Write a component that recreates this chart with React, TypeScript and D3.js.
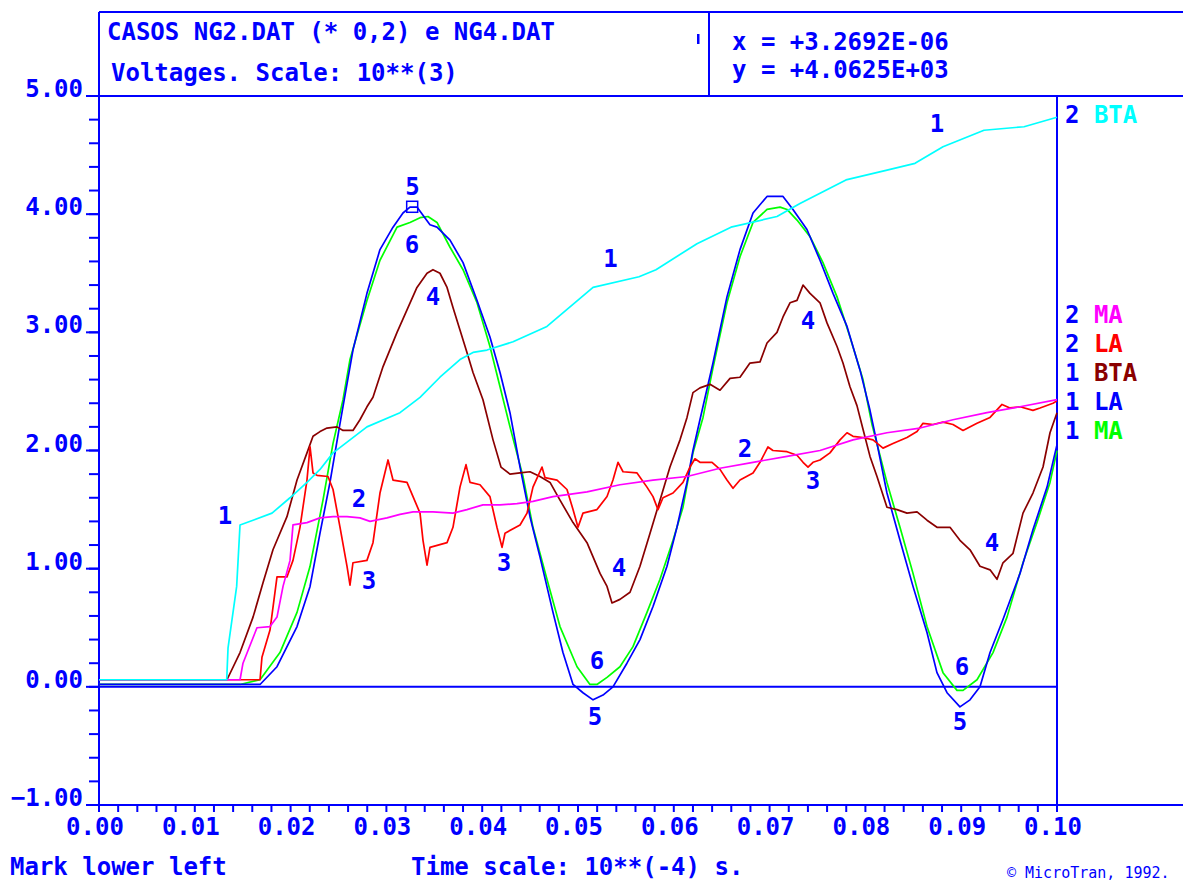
import React from 'react';
import * as d3 from 'd3';

type Pt = [number, number];

// time axis values (axis units) and voltage (10**3)
const xTickValues = [0, 0.01, 0.02, 0.03, 0.04, 0.05, 0.06, 0.07, 0.08, 0.09, 0.1];
const yTickValues = [-1, 0, 1, 2, 3, 4, 5];

const bta2: Pt[] = [
  [0, 0.06], [0.01333, 0.06], [0.01347, 0.33], [0.01437, 0.85], [0.01472, 1.37], [0.01608, 1.41],
  [0.01806, 1.47], [0.01994, 1.6], [0.02171, 1.73], [0.02307, 1.84], [0.02443, 1.98], [0.0262, 2.09],
  [0.02797, 2.2], [0.03142, 2.32], [0.03351, 2.45], [0.03559, 2.62], [0.03768, 2.77], [0.03904, 2.83],
  [0.0405, 2.85], [0.04322, 2.92], [0.04676, 3.05], [0.05157, 3.38], [0.05637, 3.47], [0.05814, 3.53],
  [0.06242, 3.75], [0.06597, 3.89], [0.07077, 3.98], [0.07317, 4.09], [0.07797, 4.29], [0.08215, 4.37],
  [0.08518, 4.43], [0.0881, 4.57], [0.09238, 4.71], [0.09656, 4.74], [0.1, 4.82],
];

const la1: Pt[] = [
  [0, 0.02], [0.01681, 0.02], [0.01858, 0.17], [0.02067, 0.51], [0.02203, 0.85], [0.02307, 1.3],
  [0.02411, 1.73], [0.02516, 2.23], [0.02651, 2.85], [0.02797, 3.33], [0.02933, 3.7], [0.03069, 3.89],
  [0.03173, 4.01], [0.03246, 4.06], [0.03319, 4.06], [0.03382, 3.99], [0.03455, 3.91], [0.03528, 3.89],
  [0.03664, 3.78], [0.038, 3.59], [0.03946, 3.27], [0.04081, 2.96], [0.04186, 2.66], [0.0429, 2.32],
  [0.04395, 1.86], [0.04499, 1.44], [0.04603, 1.1], [0.04739, 0.63], [0.04843, 0.29], [0.04948, 0.02],
  [0.05052, -0.05], [0.05157, -0.11], [0.05261, -0.07], [0.05365, 0.0], [0.05511, 0.2], [0.05647, 0.4],
  [0.05783, 0.68], [0.05929, 1.02], [0.06033, 1.35], [0.06138, 1.73], [0.062, 2.0], [0.06273, 2.26],
  [0.06409, 2.74], [0.06555, 3.3], [0.06691, 3.7], [0.06827, 4.01], [0.06973, 4.15], [0.0714, 4.15],
  [0.07244, 4.04], [0.0739, 3.87], [0.07526, 3.61], [0.07662, 3.33], [0.07808, 3.05], [0.07944, 2.68],
  [0.08048, 2.34], [0.08121, 2.06], [0.08225, 1.64], [0.08361, 1.24], [0.08497, 0.85], [0.08643, 0.46],
  [0.08747, 0.12], [0.08852, -0.05], [0.08987, -0.17], [0.09092, -0.11], [0.09196, 0.0], [0.09301, 0.29],
  [0.09436, 0.57], [0.09614, 0.96], [0.09749, 1.33], [0.09896, 1.69], [0.1, 2.05],
];

const ma1: Pt[] = [
  [0, 0.02], [0.01472, 0.02], [0.01681, 0.06], [0.01889, 0.29], [0.02067, 0.63], [0.02203, 1.02],
  [0.02338, 1.58], [0.02443, 2.06], [0.02547, 2.43], [0.0262, 2.77], [0.02797, 3.27], [0.02933, 3.61],
  [0.03111, 3.89], [0.03246, 3.93], [0.03351, 3.97], [0.03434, 3.98], [0.03528, 3.93], [0.03664, 3.72],
  [0.038, 3.53], [0.03946, 3.25], [0.04081, 2.88], [0.04186, 2.54], [0.0429, 2.2], [0.04426, 1.78],
  [0.0453, 1.35], [0.04676, 0.91], [0.04812, 0.51], [0.0499, 0.17], [0.05125, 0.02], [0.05198, 0.02],
  [0.05303, 0.08], [0.05438, 0.17], [0.05574, 0.34], [0.0572, 0.63], [0.05856, 0.91], [0.05992, 1.24],
  [0.06096, 1.52], [0.062, 1.98], [0.06305, 2.28], [0.06409, 2.7], [0.06555, 3.25], [0.06691, 3.64],
  [0.06827, 3.93], [0.06973, 4.04], [0.07109, 4.06], [0.07182, 4.04], [0.07286, 3.95], [0.07422, 3.81],
  [0.07557, 3.59], [0.07704, 3.3], [0.07839, 2.96], [0.07975, 2.6], [0.08069, 2.22], [0.08225, 1.73],
  [0.08361, 1.35], [0.08497, 0.96], [0.08643, 0.51], [0.0881, 0.12], [0.08956, -0.03], [0.09019, -0.03],
  [0.09165, 0.06], [0.09332, 0.29], [0.09478, 0.59], [0.09645, 1.05], [0.09791, 1.39], [0.09927, 1.73],
  [0.1, 2.0],
];

const bta1: Pt[] = [
  [0, 0.06], [0.01336, 0.06], [0.01472, 0.29], [0.01608, 0.59], [0.01712, 0.88], [0.01816, 1.16],
  [0.01962, 1.44], [0.02067, 1.75], [0.02171, 1.98], [0.02234, 2.12], [0.02307, 2.16], [0.0238, 2.19],
  [0.02484, 2.2], [0.02547, 2.17], [0.02651, 2.17], [0.02724, 2.26], [0.02797, 2.37], [0.0286, 2.45],
  [0.02965, 2.71], [0.03111, 3.0], [0.03215, 3.19], [0.03319, 3.38], [0.03424, 3.5], [0.03486, 3.53],
  [0.03559, 3.5], [0.03633, 3.38], [0.03695, 3.21], [0.03768, 3.02], [0.03841, 2.83], [0.03904, 2.66],
  [0.04008, 2.43], [0.04113, 2.09], [0.04196, 1.86], [0.0429, 1.8], [0.04395, 1.81], [0.04499, 1.82],
  [0.04603, 1.78], [0.04708, 1.73], [0.04812, 1.58], [0.04948, 1.39], [0.05094, 1.22], [0.0523, 0.96],
  [0.05303, 0.85], [0.05355, 0.71], [0.05438, 0.74], [0.05543, 0.8], [0.05647, 1.02], [0.05752, 1.3],
  [0.05856, 1.58], [0.0596, 1.86], [0.06065, 2.09], [0.06138, 2.28], [0.062, 2.49], [0.06273, 2.53],
  [0.06378, 2.56], [0.06482, 2.51], [0.06587, 2.61], [0.06691, 2.62], [0.06795, 2.74], [0.069, 2.75],
  [0.06973, 2.91], [0.07077, 3.0], [0.0714, 3.13], [0.07213, 3.25], [0.07286, 3.27], [0.07349, 3.4],
  [0.07422, 3.33], [0.07526, 3.25], [0.07599, 3.08], [0.07704, 2.88], [0.07766, 2.74], [0.07839, 2.54],
  [0.07912, 2.38], [0.07975, 2.18], [0.08048, 1.95], [0.08121, 1.78], [0.08225, 1.52], [0.0833, 1.5],
  [0.08434, 1.47], [0.08539, 1.48], [0.08643, 1.41], [0.08747, 1.35], [0.08883, 1.35], [0.08987, 1.24],
  [0.09092, 1.16], [0.09196, 1.02], [0.09301, 0.99], [0.09374, 0.91], [0.09436, 1.05], [0.09541, 1.13],
  [0.09645, 1.47], [0.09749, 1.64], [0.09854, 1.86], [0.09927, 2.15], [0.1, 2.32],
];

const la2: Pt[] = [
  [0, 0.06], [0.01681, 0.06], [0.01701, 0.25], [0.01785, 0.48], [0.01858, 0.93], [0.01962, 0.93],
  [0.02025, 1.07], [0.02098, 1.35], [0.02171, 1.75], [0.02203, 2.03], [0.02234, 1.81], [0.02276, 1.79],
  [0.0239, 1.78], [0.02443, 1.67], [0.02516, 1.35], [0.02589, 1.02], [0.0262, 0.86], [0.02651, 1.05],
  [0.02797, 1.07], [0.0286, 1.22], [0.02933, 1.64], [0.03017, 1.92], [0.03069, 1.75], [0.03215, 1.73],
  [0.03278, 1.61], [0.03351, 1.47], [0.03382, 1.24], [0.03424, 1.03], [0.03455, 1.18], [0.03633, 1.22],
  [0.03695, 1.35], [0.03768, 1.69], [0.03831, 1.88], [0.03873, 1.73], [0.03977, 1.71], [0.04081, 1.61],
  [0.04154, 1.35], [0.04207, 1.18], [0.04238, 1.3], [0.04395, 1.37], [0.04468, 1.47], [0.0453, 1.69],
  [0.04624, 1.86], [0.04656, 1.77], [0.04781, 1.75], [0.04885, 1.67], [0.04948, 1.5], [0.05, 1.35],
  [0.05052, 1.47], [0.05198, 1.5], [0.05303, 1.61], [0.05365, 1.75], [0.05418, 1.9], [0.0547, 1.82],
  [0.05616, 1.81], [0.0572, 1.69], [0.05783, 1.61], [0.05835, 1.5], [0.05887, 1.6], [0.05992, 1.64],
  [0.06096, 1.73], [0.06169, 1.86], [0.06221, 1.93], [0.06273, 1.9], [0.06399, 1.9], [0.06482, 1.84],
  [0.06555, 1.75], [0.06618, 1.68], [0.06691, 1.75], [0.06827, 1.81], [0.069, 1.9], [0.06983, 2.03],
  [0.07035, 2.0], [0.07182, 1.99], [0.07286, 1.96], [0.07349, 1.9], [0.07401, 1.86], [0.07453, 1.9],
  [0.07526, 1.92], [0.0763, 1.98], [0.07735, 2.09], [0.07808, 2.15], [0.07871, 2.12], [0.07975, 2.11],
  [0.08079, 2.09], [0.08184, 2.02], [0.08288, 2.06], [0.08434, 2.11], [0.08539, 2.16], [0.08601, 2.23],
  [0.08706, 2.22], [0.0881, 2.24], [0.08914, 2.22], [0.09019, 2.17], [0.09165, 2.23], [0.09301, 2.28],
  [0.09426, 2.39], [0.09509, 2.36], [0.09614, 2.37], [0.09749, 2.34], [0.09823, 2.36], [0.09958, 2.4],
  [0.1, 2.42],
];

const ma2: Pt[] = [
  [0, 0.06], [0.01472, 0.06], [0.01503, 0.2], [0.01649, 0.5], [0.01785, 0.51], [0.01858, 0.59],
  [0.01921, 0.85], [0.01994, 1.07], [0.02025, 1.37], [0.02171, 1.39], [0.02307, 1.43], [0.02443, 1.44],
  [0.02589, 1.44], [0.02724, 1.43], [0.02829, 1.4], [0.03006, 1.43], [0.03142, 1.46], [0.03278, 1.48],
  [0.03486, 1.48], [0.03695, 1.47], [0.03841, 1.5], [0.04008, 1.54], [0.04186, 1.54], [0.04363, 1.55],
  [0.0453, 1.57], [0.04739, 1.61], [0.05094, 1.65], [0.05438, 1.71], [0.05783, 1.75], [0.06138, 1.78],
  [0.06482, 1.85], [0.06827, 1.9], [0.07182, 1.95], [0.07526, 2.0], [0.07871, 2.09], [0.08225, 2.15],
  [0.0857, 2.19], [0.08914, 2.26], [0.09269, 2.32], [0.09614, 2.37], [0.1, 2.43],
];

// curve tag numbers placed on the chart (data coords)
const curveTags: { text: string; t: number; v: number }[] = [
  { text: '1', t: 0.01315, v: 1.454 }, { text: '1', t: 0.05339, v: 3.629 }, { text: '1', t: 0.08747, v: 4.771 },
  { text: '2', t: 0.02714, v: 1.598 }, { text: '2', t: 0.06743, v: 2.013 },
  { text: '3', t: 0.02818, v: 0.896 }, { text: '3', t: 0.04228, v: 1.048 }, { text: '3', t: 0.07453, v: 1.75 },
  { text: '4', t: 0.03486, v: 3.307 }, { text: '4', t: 0.05428, v: 1.014 }, { text: '4', t: 0.07401, v: 3.104 },
  { text: '4', t: 0.09322, v: 1.225 },
  { text: '5', t: 0.03272, v: 4.23 }, { text: '5', t: 0.05177, v: -0.247 }, { text: '5', t: 0.08987, v: -0.29 },
  { text: '6', t: 0.03267, v: 3.747 }, { text: '6', t: 0.05198, v: 0.227 }, { text: '6', t: 0.09008, v: 0.176 },
];

const cursor = { t: 0.032692, v: 4.0625 };

const seriesNums = ['2', '2', '2', '1', '1', '1'];
const seriesNames = ['BTA', 'MA', 'LA', 'BTA', 'LA', 'MA'];
const seriesColors = ['#00ffff', '#ff00ff', '#ff0000', '#8a0000', '#0000ff', '#00ff00'];
const seriesData = [bta2, ma2, la2, bta1, la1, ma1];

const titleLines = ['CASOS NG2.DAT (* 0,2) e NG4.DAT', 'Voltages. Scale: 10**(3)'];
const cursorLines = ['x = +3.2692E-06', 'y = +4.0625E+03'];

export default function App() {
  const W = 1183;
  const H = 884;
  const left = 99;
  const right = 1057;
  const top = 96;
  const bottom = 805;
  const blue = '#0000ff';
  const font = "'DejaVu Sans Mono', 'Liberation Mono', monospace";

  const x = d3.scaleLinear().domain([0, 0.1]).range([left, right]);
  const y = d3.scaleLinear().domain([-1, 5]).range([bottom, top]);
  const line = d3.line<Pt>().x((d) => x(d[0])).y((d) => y(d[1]));

  const minorX = d3.range(0, 50 + 1).map((i) => i * 0.002);
  const minorY = d3.range(0, 30 + 1).map((i) => -1 + i * 0.2);

  const drawOrder = [5, 4, 3, 2, 1, 0];
  const legendY = [123, 323, 352, 381, 410, 439];

  return (
    <svg
      width={W}
      height={H}
      viewBox={`0 0 ${W} ${H}`}
      style={{ position: 'absolute', left: 0, top: 0, background: '#ffffff' }}
      fontFamily={font}
      fontWeight="bold"
      fontSize={24}
    >
      <rect x={0} y={0} width={W} height={H} fill="#ffffff" />
      {/* header box */}
      <g stroke={blue} strokeWidth={2} fill="none">
        <line x1={left} y1={12} x2={W} y2={12} />
        <line x1={left - 12} y1={top} x2={W} y2={top} />
        <line x1={left} y1={12} x2={left} y2={bottom} />
        <line x1={709} y1={12} x2={709} y2={top} />
        <line x1={right} y1={top} x2={right} y2={bottom + 7} />
        <line x1={left} y1={bottom} x2={W} y2={bottom} />
        <line x1={left} y1={y(0)} x2={right} y2={y(0)} />
      </g>
      <rect x={697} y={34} width={2.5} height={10} fill={blue} />
      <text x={107} y={40} fill={blue}>{titleLines[0]}</text>
      <text x={111} y={81} fill={blue}>{titleLines[1]}</text>
      <text x={732} y={50} fill={blue}>{cursorLines[0]}</text>
      <text x={732} y={78} fill={blue}>{cursorLines[1]}</text>

      {/* y ticks */}
      <g stroke={blue} strokeWidth={2}>
        {minorY.map((v, i) => (
          <line key={`ym${i}`} x1={left - 10} x2={left} y1={y(v)} y2={y(v)} />
        ))}
        {yTickValues.map((v) => (
          <line key={`yM${v}`} x1={left - 13} x2={left} y1={y(v)} y2={y(v)} />
        ))}
        {minorX.map((t, i) => (
          <line key={`xm${i}`} x1={x(t)} x2={x(t)} y1={bottom} y2={bottom + 7} />
        ))}
      </g>
      {yTickValues.map((v) => (
        <text key={`yl${v}`} x={83} y={y(v) + 1} textAnchor="end" fill={blue}>
          {d3.format('.2f')(v)}
        </text>
      ))}
      {xTickValues.map((t) => (
        <text key={`xl${t}`} x={x(t) - 4} y={835} textAnchor="middle" fill={blue}>
          {d3.format('.2f')(t)}
        </text>
      ))}

      {/* curves */}
      <g fill="none" strokeWidth={1.7} strokeLinejoin="round">
        {drawOrder.map((i) => (
          <path key={`s${i}`} d={line(seriesData[i]) || ''} stroke={seriesColors[i]} />
        ))}
      </g>

      {/* cursor marker */}
      <rect x={x(cursor.t) - 5.5} y={y(cursor.v) - 5.5} width={11} height={11} fill="none" stroke={blue} strokeWidth={1.5} />

      {/* curve tags */}
      {curveTags.map((c, i) => (
        <text key={`tag${i}`} x={x(c.t)} y={y(c.v) + 8.5} textAnchor="middle" fill={blue}>
          {c.text}
        </text>
      ))}

      {/* legend */}
      {seriesNames.map((n, i) => (
        <text key={`lg${i}`} x={1065} y={legendY[i]}>
          <tspan fill={blue}>{seriesNums[i]} </tspan>
          <tspan fill={seriesColors[i]}>{n}</tspan>
        </text>
      ))}

      {/* footer */}
      <text x={10} y={875} fill={blue}>Mark lower left</text>
      <text x={411} y={875} fill={blue}>Time scale: 10**(-4) s.</text>
      <text x={1007} y={878} fill={blue} fontSize={15} fontWeight="normal">
        © MicroTran, 1992.
      </text>
    </svg>
  );
}
